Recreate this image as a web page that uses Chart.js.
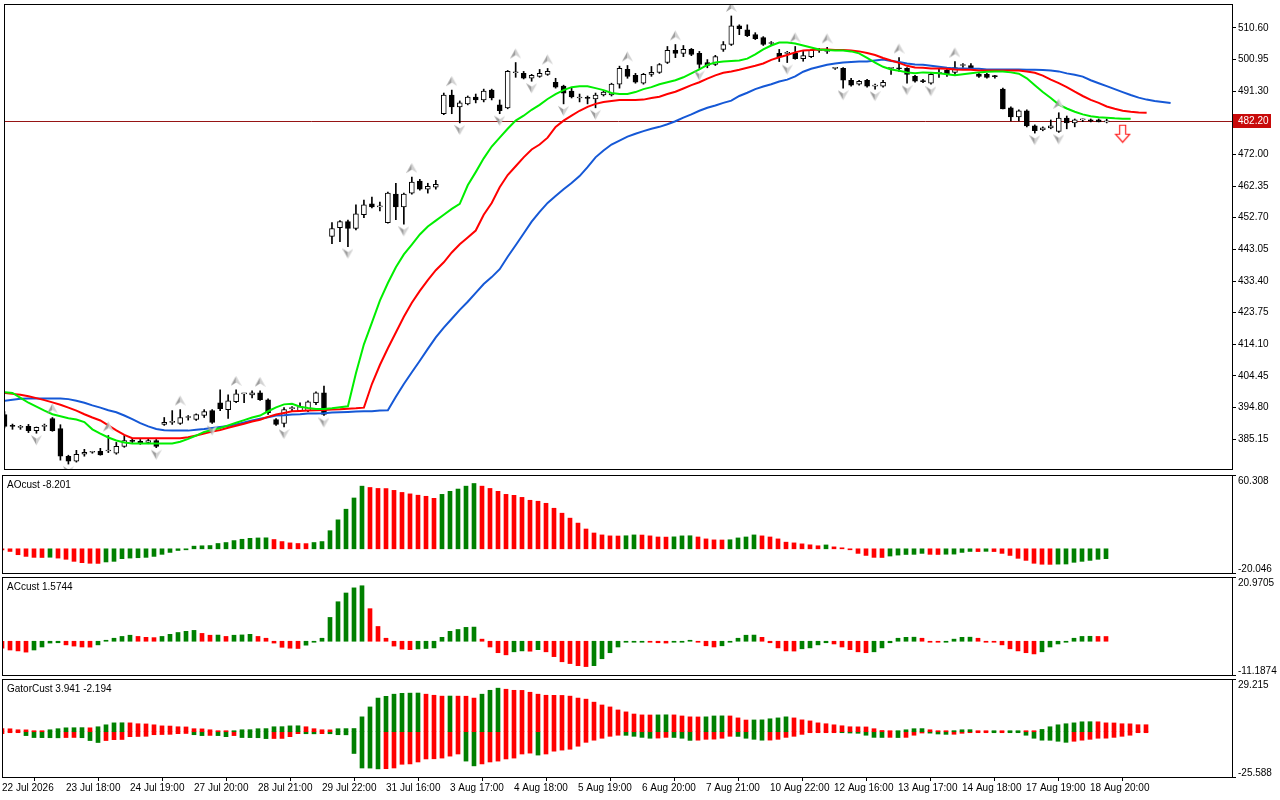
<!DOCTYPE html>
<html>
<head>
<meta charset="utf-8">
<script src="https://cdn.jsdelivr.net/npm/chart.js@4.4.1/dist/chart.umd.min.js"></script>
<style>
  html, body { margin: 0; padding: 0; background: #fff; }
  #wrap { position: relative; width: 1280px; height: 800px; overflow: hidden; }
  canvas { position: absolute; left: 0; }
</style>
</head>
<body>
<div id="wrap">
  <canvas id="main" width="1280" height="474" style="top:0;width:1280px;height:474px"></canvas>
  <canvas id="ao" width="1280" height="102" style="top:474px;width:1280px;height:102px"></canvas>
  <canvas id="ac" width="1280" height="102" style="top:576px;width:1280px;height:102px"></canvas>
  <canvas id="gator" width="1280" height="122" style="top:678px;width:1280px;height:122px"></canvas>
</div>
<script>
// ---- price bars (one per hour bar, oldest first) ----
const opens = [
  392.7,389.2,388.8,389.1,387.8,389.1,391.5,388.4,380.0,378.5,
  380.6,381.2,381.5,381.6,380.9,383.0,384.6,384.5,384.2,384.8,
  389.7,390.3,390.0,391.8,391.2,392.4,393.9,396.3,394.2,396.6,
  399.0,398.7,399.3,397.2,391.2,390.0,394.5,393.9,393.9,396.3,
  399.3,447.0,449.7,451.5,449.4,453.6,456.9,456.0,451.2,459.9,
  456.0,460.2,463.85,461.4,462.0,484.4,490.1,486.5,487.4,489.5,
  488.6,491.6,487.1,486.2,496.9,496.7,495.2,495.8,496.4,494.0,
  492.8,491.3,489.2,489.2,488.9,490.1,490.1,493.4,497.9,496.1,
  493.7,496.4,497.0,500.0,503.7,502.8,504.0,502.8,500.0,499.4,
  504.0,505.5,511.2,510.0,508.5,507.6,505.8,502.8,502.8,502.8,
  501.2,501.8,503.7,503.4,498.2,498.2,494.6,493.4,494.6,492.8,
  492.8,498.2,498.2,498.2,495.8,494.3,493.7,496.7,497.6,497.0,
  499.1,499.1,496.4,496.4,495.8,491.9,486.2,483.4,485.3,480.7,
  479.5,480.1,479.0,483.1,481.6,482.5,482.3,482.5,481.9
];
const highs = [
  393.6,389.8,389.4,389.7,388.9,389.8,391.8,389.6,380.3,381.8,
  382.1,381.5,382.4,386.3,384.2,386.3,385.4,385.1,385.2,385.1,
  391.8,393.9,394.2,392.4,392.9,394.2,394.2,400.2,398.7,400.2,
  399.2,399.9,399.9,397.5,391.5,394.8,395.1,396.3,396.9,399.6,
  401.4,451.2,451.8,452.0,456.6,458.1,459.0,457.5,460.5,463.2,
  460.2,465.1,464.4,463.2,464.1,490.7,491.6,488.3,489.8,490.4,
  491.9,491.9,488.6,497.6,500.0,497.3,496.4,497.9,498.2,495.2,
  493.1,492.2,490.4,489.8,490.7,491.3,493.7,498.9,499.1,496.7,
  496.7,498.8,499.7,504.9,505.5,505.2,504.3,503.4,500.9,502.2,
  506.4,514.2,511.5,511.5,509.1,507.9,506.4,504.0,503.4,504.9,
  503.4,504.0,504.3,504.6,498.5,498.5,495.2,494.6,494.9,493.4,
  494.6,498.5,501.5,498.5,496.1,494.9,496.7,498.2,498.2,500.3,
  499.7,499.7,496.7,496.7,496.1,492.2,486.5,485.6,485.6,481.0,
  480.4,482.5,484.7,483.7,482.8,482.8,482.8,482.8,482.8
];
const lows = [
  388.6,388.2,388.2,387.2,387.0,387.8,387.6,378.8,377.6,378.2,
  380.0,380.9,380.3,381.1,380.6,382.7,383.9,383.6,383.8,382.6,
  389.4,389.7,389.7,391.0,390.9,391.8,390.0,393.9,391.5,396.3,
  396.3,397.8,397.0,392.7,389.4,388.9,393.9,393.6,393.6,395.7,
  392.4,444.8,445.4,443.9,449.0,452.7,455.7,454.8,451.0,452.1,
  450.7,459.9,461.1,460.2,461.4,484.1,484.4,481.6,487.1,487.7,
  488.0,488.6,484.4,485.9,495.5,495.0,494.3,495.5,496.1,492.2,
  487.4,489.2,488.0,487.4,486.2,489.8,489.8,492.2,495.2,493.7,
  493.4,495.8,496.7,499.7,501.5,501.8,502.1,498.2,498.4,499.1,
  503.4,505.2,508.5,507.9,507.0,505.2,505.2,500.3,500.0,501.0,
  500.4,501.5,503.1,502.8,497.9,492.2,492.8,493.1,492.5,491.9,
  492.5,496.4,497.3,493.7,494.0,493.9,493.4,495.5,495.8,496.4,
  498.5,497.9,495.5,495.2,495.2,485.9,482.2,482.2,480.4,478.5,
  479.2,479.8,478.7,479.8,480.4,482.0,481.9,481.9,481.6
];
const closes = [
  389.1,389.1,388.9,387.8,388.8,389.2,387.8,380.0,378.5,380.6,
  381.2,381.3,380.4,381.8,383.0,384.8,384.5,383.9,384.8,383.0,
  390.3,390.4,391.8,391.9,392.7,393.6,390.3,394.5,396.9,399.0,
  399.1,399.3,397.2,393.3,389.7,394.2,394.6,395.1,396.6,399.3,
  392.7,449.4,451.5,449.4,453.9,456.6,456.0,456.1,460.2,456.0,
  459.9,463.55,461.4,462.3,462.9,490.1,486.5,487.7,489.5,488.6,
  491.3,489.2,485.3,497.3,497.0,495.2,496.1,496.7,497.3,492.5,
  490.7,489.5,489.3,489.1,490.1,491.0,493.4,498.2,495.8,494.0,
  496.4,497.0,499.4,503.7,502.8,504.0,502.5,499.4,499.1,501.8,
  505.5,511.2,510.3,508.2,507.3,505.5,505.9,501.8,502.9,501.2,
  502.1,503.7,503.8,503.5,498.3,494.6,493.1,494.3,492.8,492.9,
  494.0,498.3,498.1,496.4,494.3,494.2,496.4,496.8,496.4,498.5,
  499.2,498.2,495.8,495.5,495.7,485.9,483.4,485.3,480.7,479.2,
  480.1,480.7,483.1,481.6,482.5,482.6,482.2,481.9,482.2
];

// ---- Alligator lines (already shifted forward: jaw 8, teeth 5, lips 3 bars) ----
const jaw = [
  396.9,397.2,397.5,397.6,397.6,397.6,397.6,397.6,397.4,396.9,
  396.3,395.5,394.8,394.0,393.4,392.4,391.3,390.1,389.1,388.3,
  387.9,387.8,387.8,387.8,388.1,388.3,388.6,388.9,389.2,389.7,
  390.3,390.9,391.4,391.9,392.4,392.5,392.7,392.8,393.0,393.0,
  393.1,393.3,393.4,393.5,393.6,393.7,393.7,393.9,394.0,398.1,
  402.0,405.6,409.1,412.7,416.2,419.2,421.9,424.6,427.1,429.8,
  432.5,434.6,437.0,440.8,444.3,447.9,451.5,454.5,457.2,459.3,
  461.4,463.3,465.4,468.1,471.1,473.2,475.0,476.2,477.4,478.3,
  479.1,479.8,480.4,481.2,482.1,483.2,484.2,485.3,486.2,486.9,
  487.7,488.4,489.8,490.8,491.9,492.7,493.4,494.2,494.8,495.8,
  497.2,498.1,498.7,499.3,499.7,500.0,500.2,500.3,500.3,500.6,
  500.9,500.5,500.2,499.7,499.4,499.3,499.0,498.7,498.4,498.2,
  498.2,498.1,498.1,497.9,497.9,497.9,497.9,497.9,497.8,497.8,
  497.7,497.6,497.3,496.7,496.3,495.7,494.6,493.7,492.8,491.9,
  491.0,490.1,489.3,488.7,488.3,488.0,487.7
];
const teeth = [
  399.3,399.0,398.7,398.3,397.7,397.1,396.4,395.7,394.8,393.9,
  392.8,391.8,390.9,389.4,387.9,386.5,385.5,385.5,385.5,385.5,
  385.5,385.5,385.5,385.8,386.3,386.9,387.5,388.0,388.7,389.3,
  389.9,390.6,391.1,392.0,392.7,393.2,393.7,393.8,393.9,394.0,
  394.1,394.2,394.3,394.5,394.6,394.8,402.0,407.8,412.9,417.7,
  422.5,426.8,430.4,433.7,436.7,439.1,442.1,444.6,446.7,448.8,
  453.6,457.2,462.0,465.7,468.4,471.1,473.5,475.0,477.1,480.4,
  482.3,483.8,485.3,486.5,487.4,488.0,488.3,488.6,488.6,488.6,
  488.7,489.2,489.6,490.4,491.1,492.1,493.1,494.0,495.1,496.1,
  496.9,497.3,497.8,498.4,499.0,499.7,500.8,501.6,502.3,503.1,
  503.7,503.8,504.0,504.0,503.8,503.8,503.7,503.4,502.9,502.3,
  501.4,500.6,499.9,499.0,498.5,498.4,498.2,498.2,498.1,497.9,
  497.8,497.8,497.6,497.6,497.6,497.6,497.6,497.6,497.3,496.9,
  496.0,494.8,493.7,492.5,491.1,489.8,488.6,487.7,486.6,485.9,
  485.3,485.0,484.8,484.7
];
const lips = [
  399.5,399.3,397.8,396.3,395.1,393.9,392.8,392.2,391.6,391.2,
  390.4,388.2,386.9,385.7,384.8,384.2,383.9,383.9,383.9,383.9,
  383.9,383.9,384.4,385.3,386.3,387.4,388.0,388.6,389.4,390.2,
  391.0,391.8,392.4,393.7,394.9,395.8,396.0,395.1,394.7,394.4,
  394.4,394.6,394.9,395.2,405.3,414.1,420.7,427.4,432.8,437.6,
  441.5,444.5,447.6,450.0,451.8,453.6,455.4,456.9,462.6,466.6,
  470.8,474.4,477.1,479.8,482.3,483.8,485.6,487.1,488.9,490.4,
  491.6,492.5,492.8,492.8,492.2,491.6,490.7,490.4,490.4,491.0,
  491.9,492.5,493.4,494.0,494.6,495.5,496.7,497.9,499.3,500.0,
  500.3,500.5,500.6,501.2,502.5,504.0,505.2,506.1,506.1,505.8,
  505.2,504.6,504.0,503.8,503.7,503.7,503.4,502.8,501.4,500.0,
  498.7,497.9,497.5,497.0,496.7,497.0,496.9,496.7,496.4,496.1,
  496.4,496.7,497.0,497.2,497.3,497.3,497.0,496.6,495.2,493.1,
  491.0,489.2,487.2,486.0,485.0,484.2,483.6,483.3,483.2,483.0,
  482.9,482.9
];

// ---- fractal bars and signal ----
const upFractals = [6, 13, 22, 29, 32, 51, 56, 64, 68, 78, 84, 91, 99, 103, 112, 119, 132];
const downFractals = [4, 8, 19, 26, 35, 40, 43, 50, 57, 62, 66, 70, 74, 87, 98, 105, 109, 113, 116, 129, 132];
const sellSignalBars = [140];
const sellSignalPrices = [478.3];

// ---- oscillators ----
const ao = [
  -0.3,-2.2,-4.9,-6.3,-7.1,-7.2,-7.0,-7.7,-8.7,-10.4,
  -11.5,-12.0,-12.1,-10.9,-10.4,-8.2,-7.7,-7.4,-7.1,-6.3,
  -4.6,-3.0,-1.4,-0.5,2.2,2.5,2.7,4.4,5.2,6.8,
  7.9,8.7,9.0,9.1,7.7,6.0,4.9,4.4,4.3,5.2,
  6.0,15.0,24.0,32.8,42.1,51.9,50.8,50.0,49.9,48.4,
  46.7,45.5,44.4,43.5,41.8,45.1,47.6,49.5,51.9,54.1,
  51.9,50.0,47.6,45.1,44.3,42.6,40.2,39.4,37.7,33.6,
  29.5,25.4,21.3,16.4,13.1,11.5,10.7,10.6,10.8,11.5,
  11.4,10.7,9.8,9.7,9.9,10.7,10.8,9.8,8.2,7.4,
  7.3,7.5,9.0,9.8,11.5,10.7,9.8,8.2,5.5,4.9,
  4.1,3.3,2.5,3.2,1.6,0.2,-0.3,-3.8,-5.5,-7.1,
  -7.2,-6.0,-5.2,-4.7,-4.6,-3.8,-4.6,-4.7,-4.5,-4.4,
  -3.0,-2.2,-2.3,-2.1,-2.3,-3.8,-5.5,-7.9,-9.6,-12.0,
  -12.8,-12.9,-12.7,-12.6,-11.2,-10.4,-9.6,-8.7,-8.201
];
const ac = [
  -2.3,-2.9,-3.2,-3.6,-2.9,-1.9,-0.6,-0.5,-1.2,-1.6,
  -1.9,-1.95,-1.2,0.3,1.0,1.6,2.0,1.6,1.3,1.2,
  1.6,2.3,2.9,3.3,3.6,2.6,2.0,2.05,1.6,2.0,
  2.1,2.3,1.6,1.0,-0.6,-2.0,-2.3,-2.4,-1.3,-0.3,
  1.0,7.9,13.1,16.0,17.7,18.4,10.8,4.9,1.0,-1.6,
  -2.6,-2.8,-2.55,-2.4,-2.2,1.3,3.3,3.9,4.6,4.7,
  0.7,-1.9,-3.8,-4.5,-3.5,-3.2,-3.3,-2.8,-3.5,-5.1,
  -6.8,-7.4,-8.1,-8.4,-8.1,-5.8,-3.8,-1.9,-0.2,-0.1,
  -0.05,-0.2,-0.5,-0.6,-0.3,-0.1,0.2,-0.1,-1.5,-1.9,
  -1.5,-0.2,1.0,2.0,2.05,1.3,-0.5,-2.2,-3.2,-3.25,
  -2.5,-2.2,-1.2,-0.5,-0.9,-1.9,-2.8,-3.5,-3.8,-3.5,
  -2.2,-0.5,1.0,1.3,1.35,1.0,-0.2,-0.25,-0.1,0.7,
  1.3,1.35,1.0,-0.2,-0.3,-1.2,-2.5,-3.2,-3.8,-4.2,
  -3.5,-1.9,-0.9,-0.2,1.0,1.6,1.65,1.6,1.5744
];
const gatorUp = [
  1.7,1.65,1.1,1.05,0.55,0.2,1.1,1.7,2.2,2.25,
  2.3,2.2,2.8,3.9,5.0,5.05,5.0,4.5,4.4,3.9,
  3.3,3.2,2.8,2.7,1.7,1.6,1.1,0.05,0.03,0.55,
  1.1,1.15,1.7,1.75,2.8,2.85,3.3,3.35,2.8,1.7,
  1.1,1.05,1.7,1.75,1.8,8.4,14.0,19.0,20.0,21.2,
  21.7,21.8,21.85,21.2,20.6,20.1,20.15,20.1,20.05,19.0,
  21.2,23.4,24.6,24.0,23.4,23.35,22.3,21.2,20.6,20.55,
  20.5,20.1,19.0,18.4,16.7,15.1,14.0,12.3,11.2,10.0,
  9.5,9.45,9.5,9.55,9.5,8.9,8.4,8.35,8.4,8.9,
  8.95,8.9,7.8,6.6,6.65,6.7,7.3,7.8,8.4,7.8,
  6.7,6.1,5.0,4.5,3.9,3.35,2.8,2.75,2.7,1.7,
  0.7,0.1,0.5,1.1,1.7,1.75,1.1,0.55,0.3,0.6,
  1.1,1.15,0.55,0.2,0.25,0.1,0.15,0.2,0.1,0.05,
  1.3,2.8,3.9,4.5,5.0,5.6,5.65,5.6,5.0,4.95,
  4.5,4.45,3.95,3.941
];
const gatorLow = [
  -1.1,-0.55,-0.5,-2.2,-3.3,-3.35,-3.4,-3.45,-3.3,-3.25,
  -3.4,-5.0,-6.1,-5.0,-4.5,-4.4,-2.8,-2.7,-2.6,-1.7,
  -1.6,-1.5,-1.1,-1.0,-1.7,-2.2,-2.1,-2.2,-2.8,-2.2,
  -3.3,-3.35,-3.4,-3.9,-3.85,-3.8,-2.8,-1.1,-1.15,-1.2,
  -1.1,-1.15,-1.7,-1.75,-12.3,-20.5,-20.55,-21.0,-20.9,-20.5,
  -18.4,-18.2,-17.1,-15.4,-15.3,-14.9,-13.8,-12.6,-16.6,-19.3,
  -18.2,-17.1,-16.6,-15.4,-14.9,-12.6,-12.1,-13.2,-12.6,-11.0,
  -10.4,-9.9,-8.2,-6.0,-4.8,-3.7,-2.6,-2.0,-2.05,-2.6,
  -3.2,-3.7,-3.6,-3.2,-3.25,-3.7,-4.9,-4.8,-4.3,-4.2,
  -3.7,-2.6,-2.65,-3.7,-4.3,-4.8,-4.75,-4.3,-3.2,-2.6,
  -1.5,-0.4,-0.1,-0.05,-0.03,-0.4,-0.75,-0.9,-2.0,-3.2,
  -3.25,-3.2,-3.3,-3.2,-2.0,-0.75,-0.8,-1.3,-1.5,-1.45,
  -0.9,-0.1,-0.05,-0.03,-0.05,-0.03,-0.05,-0.1,-2.0,-3.7,
  -4.8,-4.85,-5.4,-6.0,-5.4,-4.8,-4.3,-3.7,-3.65,-3.2,
  -2.6,-2.0,-0.1,-0.05
];

// ---- axes ----
const priceRange = [376.1, 517.54];
const priceTicks = [385.15,394.80,404.45,414.10,423.75,433.40,443.05,452.70,462.35,472.00,481.65,491.30,500.95,510.60];
const aoRange = [-20.046, 60.308];
const acRange = [-11.1874, 20.9705];
const gatorRange = [-25.588, 29.215];
const timeTickBars = [0, 8, 16, 24, 32, 40, 48, 56, 64, 72, 80, 88, 96, 104, 112, 120, 128, 136];
const timeTickLabels = ['22 Jul 2026','23 Jul 18:00','24 Jul 19:00','27 Jul 20:00','28 Jul 21:00','29 Jul 22:00',
  '31 Jul 16:00','3 Aug 17:00','4 Aug 18:00','5 Aug 19:00','6 Aug 20:00','7 Aug 21:00','10 Aug 22:00',
  '12 Aug 16:00','13 Aug 17:00','14 Aug 18:00','17 Aug 19:00','18 Aug 20:00'];
const aoTitle = 'AOcust -8.201';
const acTitle = 'ACcust 1.5744';
const gatorTitle = 'GatorCust 3.941 -2.194';

// ---- styling ----
const FONT = "Tahoma, 'Liberation Sans', 'DejaVu Sans', sans-serif";
const GREEN = '#008000';
const RED = '#ff0000';
Chart.defaults.font.family = FONT;
Chart.defaults.font.size = 10;
Chart.defaults.color = '#000';
Chart.defaults.animation = false;
Chart.defaults.plugins.legend.display = false;
Chart.defaults.plugins.tooltip.enabled = false;

const pts = arr => arr.map((v, i) => ({ x: i, y: v }));
const lastClose = closes[closes.length - 1];

// frame round each panel
const framePlugin = {
  id: 'frame',
  afterDraw(chart) {
    const a = chart.chartArea, c = chart.ctx;
    c.save();
    c.strokeStyle = '#000';
    c.lineWidth = 1;
    c.strokeRect(Math.round(a.left) - 0.5, Math.round(a.top) - 0.5,
      Math.round(a.right - a.left) + 1, Math.round(a.bottom - a.top) + 1);
    c.restore();
  }
};

// title in the corner and min / max readout on the right
const panelText = {
  id: 'panelText',
  afterDraw(chart, args, opts) {
    if (!opts.title) return;
    const a = chart.chartArea, c = chart.ctx, y = chart.scales.y;
    c.save();
    c.font = '10px ' + FONT;
    c.fillStyle = '#000';
    c.textBaseline = 'middle';
    c.textAlign = 'left';
    c.fillText(opts.title, a.left + 4, a.top + 9);
    c.fillText(y.max.toFixed(opts.decimals), a.right + 6, a.top + 5);
    c.fillText(y.min.toFixed(opts.decimals), a.right + 6, a.bottom - 4);
    c.strokeStyle = '#000';
    c.beginPath();
    c.moveTo(a.right, Math.round(a.top) - 0.5); c.lineTo(a.right + 4, Math.round(a.top) - 0.5);
    c.moveTo(a.right, Math.round(a.bottom) + 0.5); c.lineTo(a.right + 4, Math.round(a.bottom) + 0.5);
    c.stroke();
    c.restore();
  }
};

// last price line and its tag on the axis
const priceTag = {
  id: 'priceTag',
  beforeDatasetsDraw(chart) {
    const a = chart.chartArea, c = chart.ctx;
    const py = Math.round(chart.scales.y.getPixelForValue(lastClose)) + 0.5;
    c.save();
    c.strokeStyle = 'rgb(150,20,20)';
    c.lineWidth = 1;
    c.beginPath(); c.moveTo(a.left, py); c.lineTo(a.right, py); c.stroke();
    c.restore();
  },
  afterDraw(chart) {
    const a = chart.chartArea, c = chart.ctx;
    const py = Math.round(chart.scales.y.getPixelForValue(lastClose));
    c.save();
    c.fillStyle = 'rgb(200,10,10)';
    c.fillRect(a.right + 1, py - 7, 38, 14);
    c.fillStyle = '#fff';
    c.font = '10px ' + FONT;
    c.textBaseline = 'middle';
    c.fillText(lastClose.toFixed(2), a.right + 6, py);
    c.restore();
  }
};

// fractal arrow heads, drawn off-centre so the point sits on the high / low
function arrowImage(up) {
  const cv = document.createElement('canvas');
  cv.width = 11; cv.height = 36;
  const g = cv.getContext('2d');
  const t = up ? 4 : 20;
  const tip = up ? [5.5, t] : [5.5, t + 10];
  const notch = up ? [5.5, t + 6.5] : [5.5, t + 3.5];
  const l = up ? [0, t + 10] : [0, t];
  const r = up ? [11, t + 10] : [11, t];
  g.fillStyle = '#9c9c9c';
  g.beginPath(); g.moveTo(...tip); g.lineTo(...l); g.lineTo(...notch); g.closePath(); g.fill();
  g.fillStyle = '#d2d2d2';
  g.beginPath(); g.moveTo(...tip); g.lineTo(...r); g.lineTo(...notch); g.closePath(); g.fill();
  return cv;
}
function sellArrowImage() {
  const cv = document.createElement('canvas');
  cv.width = 17; cv.height = 20;
  const g = cv.getContext('2d');
  g.beginPath();
  g.moveTo(5.5, 1.5); g.lineTo(11.5, 1.5); g.lineTo(11.5, 10.5); g.lineTo(15.5, 10.5);
  g.lineTo(8.5, 18.5); g.lineTo(1.5, 10.5); g.lineTo(5.5, 10.5); g.closePath();
  g.fillStyle = '#fff'; g.fill();
  g.strokeStyle = '#ff2020'; g.lineWidth = 1.2; g.stroke();
  return cv;
}

const mainX = { type: 'linear', min: 0.0625, max: 153.6875, offset: false, display: false };
const subX = { type: 'linear', min: 0.125, max: 153.75, offset: false, display: false };
const zeroPad = s => { s.paddingTop = 0; s.paddingBottom = 0; s.paddingLeft = 0; s.paddingRight = 0; };

// ---- main price chart ----
new Chart(document.getElementById('main'), {
  type: 'bar',
  data: {
    datasets: [
      { type: 'line', data: pts(lips), borderColor: '#00ee00', borderWidth: 2, pointRadius: 0, order: 1 },
      { type: 'line', data: pts(teeth), borderColor: '#ff0000', borderWidth: 2, pointRadius: 0, order: 2 },
      { type: 'line', data: pts(jaw), borderColor: '#1558d6', borderWidth: 2, pointRadius: 0, order: 3 },
      { type: 'line', showLine: false, order: 0,
        data: upFractals.map(i => ({ x: i, y: highs[i] })), pointStyle: arrowImage(true) },
      { type: 'line', showLine: false, order: 0,
        data: downFractals.map(i => ({ x: i, y: lows[i] })), pointStyle: arrowImage(false) },
      { type: 'line', showLine: false, order: 0, clip: false,
        data: sellSignalBars.map((b, k) => ({ x: b, y: sellSignalPrices[k] })), pointStyle: sellArrowImage() },
      { data: closes.map((_, i) => ({ x: i, y: [lows[i], highs[i]] })),
        backgroundColor: '#000', barThickness: 1, grouped: false, order: 6 },
      { data: closes.map((c, i) => ({ x: i, y: [opens[i], c] })),
        backgroundColor: ctx => closes[ctx.dataIndex] >= opens[ctx.dataIndex] ? '#fff' : '#000',
        borderColor: '#000', borderWidth: 1, borderSkipped: false,
        barThickness: 5, minBarLength: 1, grouped: false, order: 5 }
    ]
  },
  options: {
    responsive: false,
    devicePixelRatio: 1,
    layout: { padding: { left: 3, right: 0, top: 3, bottom: 2 } },
    scales: {
      x: mainX,
      y: {
        position: 'right', min: priceRange[0], max: priceRange[1],
        afterBuildTicks: s => { s.ticks = priceTicks.map(v => ({ value: v })); },
        afterFit: s => { s.width = 48; zeroPad(s); },
        ticks: { autoSkip: false, padding: 2, callback: v => Number(v).toFixed(2) },
        grid: { drawOnChartArea: false, drawTicks: true, tickLength: 4, color: '#000' },
        border: { display: true, color: '#000' }
      }
    }
  },
  plugins: [priceTag, framePlugin]
});

// ---- oscillator panels ----
function histoPanel(id, values, range, title, decimals) {
  return new Chart(document.getElementById(id), {
    type: 'bar',
    data: {
      datasets: [{
        data: pts(values),
        backgroundColor: ctx => {
          const i = ctx.dataIndex;
          return i > 0 && values[i] > values[i - 1] ? GREEN : RED;
        },
        barThickness: 4, minBarLength: 1, grouped: false
      }]
    },
    options: {
      responsive: false,
      devicePixelRatio: 1,
      layout: { padding: { left: 3, right: 48, top: 2, bottom: 3 } },
      plugins: { panelText: { title: title, decimals: decimals } },
      scales: { x: subX, y: { min: range[0], max: range[1], display: false } }
    },
    plugins: [framePlugin, panelText]
  });
}
histoPanel('ao', ao, aoRange, aoTitle, 3);
histoPanel('ac', ac, acRange, acTitle, 4);

// ---- gator oscillator with the time axis ----
new Chart(document.getElementById('gator'), {
  type: 'bar',
  data: {
    datasets: [
      { data: pts(gatorUp),
        backgroundColor: ctx => { const i = ctx.dataIndex; return i > 0 && gatorUp[i] > gatorUp[i - 1] ? GREEN : RED; },
        barThickness: 4, minBarLength: 1, grouped: false },
      { data: pts(gatorLow),
        backgroundColor: ctx => { const i = ctx.dataIndex; return i > 0 && Math.abs(gatorLow[i]) > Math.abs(gatorLow[i - 1]) ? GREEN : RED; },
        barThickness: 4, minBarLength: 1, grouped: false }
    ]
  },
  options: {
    responsive: false,
    devicePixelRatio: 1,
    layout: { padding: { left: 3, right: 48, top: 2, bottom: 0 } },
    plugins: { panelText: { title: gatorTitle, decimals: 3 } },
    scales: {
      x: {
        type: 'linear', min: 0.125, max: 153.75, offset: false,
        afterBuildTicks: s => { s.ticks = timeTickBars.map(v => ({ value: v })); },
        afterFit: s => { s.height = 23; zeroPad(s); },
        ticks: {
          autoSkip: false, maxRotation: 0, minRotation: 0, align: 'start', padding: 1,
          callback: v => timeTickLabels[timeTickBars.indexOf(v)]
        },
        grid: { drawOnChartArea: false, drawTicks: true, tickLength: 4, color: '#000' },
        border: { display: false }
      },
      y: { min: gatorRange[0], max: gatorRange[1], display: false }
    }
  },
  plugins: [framePlugin, panelText]
});
</script>
</body>
</html>
